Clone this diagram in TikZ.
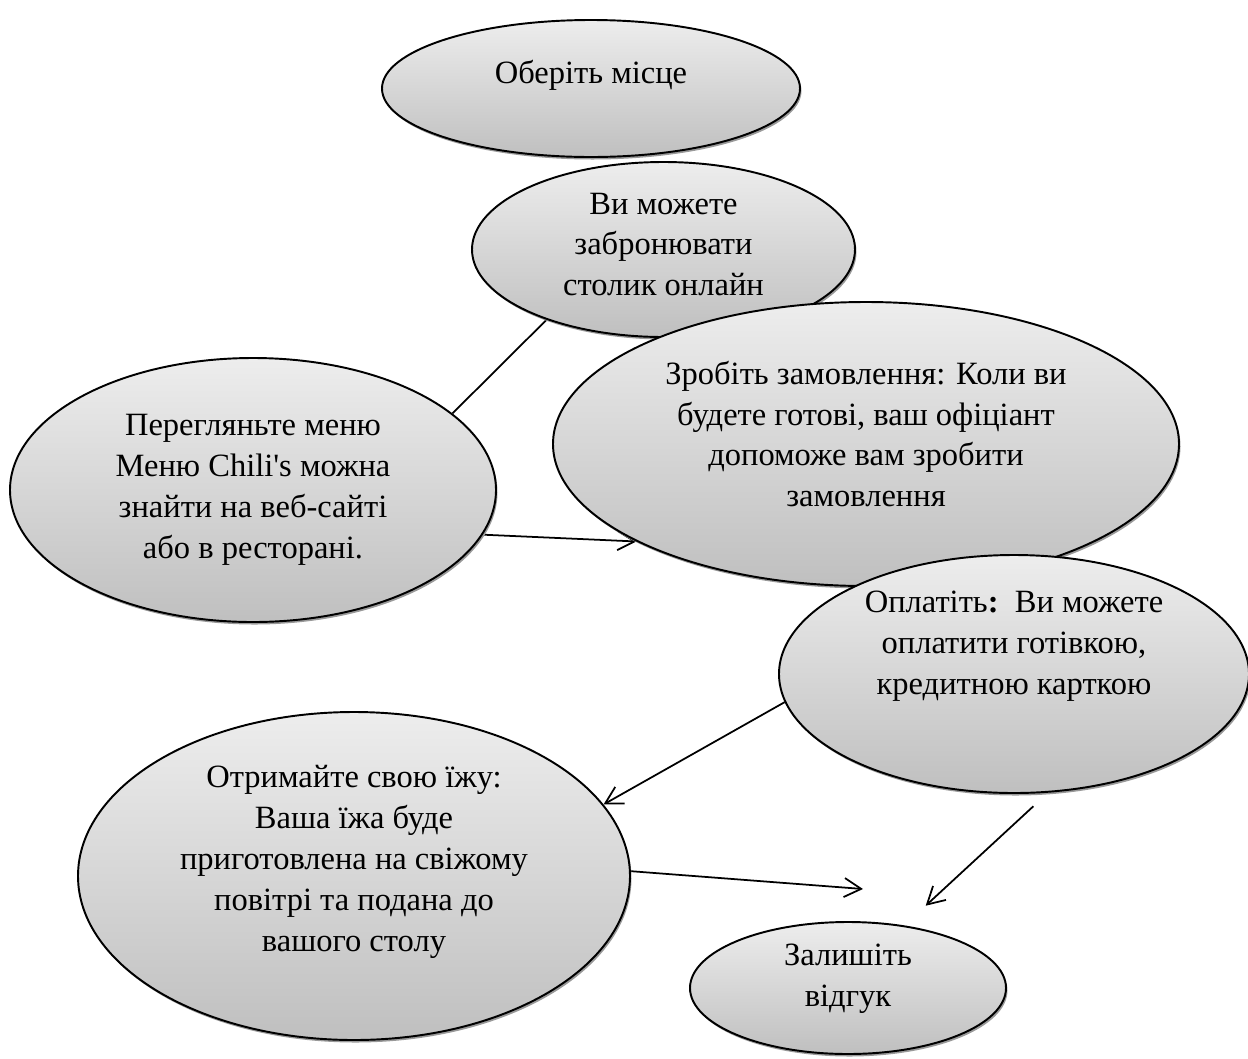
\documentclass[tikz,border=0pt]{standalone}
\usepackage{fontspec}
\setmainfont{Liberation Serif}
\usetikzlibrary{shapes.geometric,shadows,arrows.meta,backgrounds}

\tikzset{
  bubble/.style={ellipse, draw, line width=1.1pt, top color=black!7, bottom color=black!25,
    inner sep=0pt, drop shadow={shadow xshift=0.03cm, shadow yshift=-0.05cm, fill=black!40, opacity=1}},
  txt/.style={align=center, inner sep=0pt, font=\fontsize{18.5}{23.3}\selectfont},
  arr/.style={line width=1pt, -{Straight Barb[length=0.34cm, width=0.38cm]}}
}

\begin{document}
\begin{tikzpicture}
	\useasboundingbox (0,0) rectangle (24.96,-21.18);

	\node[bubble, minimum width=8.36cm, minimum height=2.74cm] (choose) at (11.82,-1.77) {};
	\node[bubble, minimum width=7.66cm, minimum height=3.50cm] (book) at (13.27,-4.99) {};
	\node[bubble, minimum width=12.52cm, minimum height=5.68cm] (order) at (17.32,-8.88) {};
	\node[bubble, minimum width=9.40cm, minimum height=4.76cm] (pay) at (20.28,-13.48) {};
	\node[bubble, minimum width=9.72cm, minimum height=5.28cm] (menu) at (5.06,-9.80) {};
	\node[bubble, minimum width=11.04cm, minimum height=6.56cm] (food) at (7.08,-17.52) {};
	\node[bubble, minimum width=6.32cm, minimum height=2.64cm] (review) at (16.96,-19.76) {};

	\node[txt] (choose-t) at ([yshift=0.26cm]choose.center) {Оберіть місце};
	\node[txt] (book-t) at ([yshift=0.10cm]book.center) {Ви можете\\забронювати\\столик онлайн};
	\node[txt] (order-t) at ([yshift=0.20cm]order.center) {Зробіть замовлення: Коли ви\\будете готові, ваш офіціант\\допоможе вам зробити\\замовлення};
	\node[txt] (pay-t) at ([yshift=0.56cm]pay.center) {Оплатіть\textbf{:}\ \ Ви можете\\оплатити готівкою,\\кредитною карткою};
	\node[txt] (menu-t) at (menu.center) {Перегляньте меню\\Меню Chili\textquotesingle s можна\\знайти на веб-сайті\\або в ресторані.};
	\node[txt] (food-t) at ([yshift=0.28cm]food.center) {Отримайте свою їжу:\\Ваша їжа буде\\приготовлена на свіжому\\повітрі та подана до\\вашого столу};
	\node[txt] (review-t) at ([yshift=0.18cm]review.center) {Залишіть\\відгук};

	\coordinate (review-in) at (17.26,-17.78);

	% connectors go under the bubbles
	\begin{scope}[on background layer]
		\draw[line width=1pt] (menu.21.5) -- (book.211);
		\draw[arr] (menu.-11) -- (order.203);
		\draw[arr] (pay.187) -- (food.16);
		\draw[arr] (food.1) -- (review-in);
		\draw[arr, shorten <=0.4cm, shorten >=0.58cm] (pay.-74) -- (review.48);
	\end{scope}
\end{tikzpicture}
\end{document}
